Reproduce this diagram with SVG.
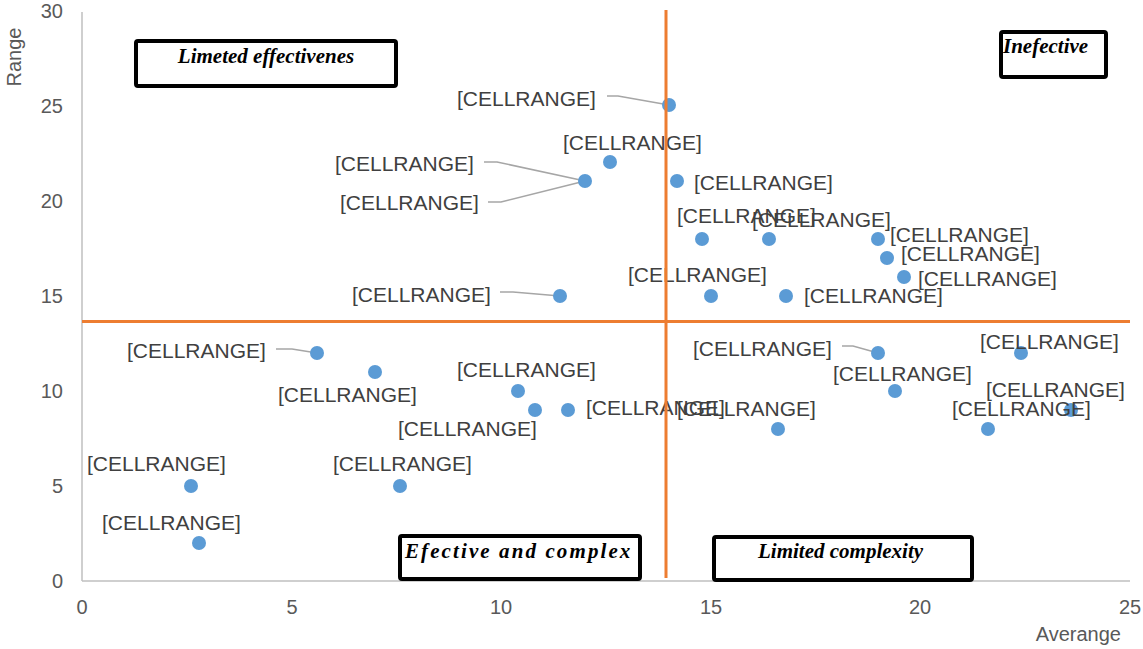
<svg xmlns="http://www.w3.org/2000/svg" width="1143" height="649" viewBox="0 0 1143 649">
<style>
.tick{font-family:"Liberation Sans",Arial,sans-serif;font-size:20px;fill:#595959}
.ttl{font-family:"Liberation Sans",Arial,sans-serif;font-size:20px;fill:#595959}
.lbl{font-family:"Liberation Sans",Arial,sans-serif;font-size:21px;fill:#404040}
.pt{fill:#5B9BD5}
.ax{stroke:#BFBFBF;stroke-width:1.5;fill:none}
.q{stroke:#ED7D31;stroke-width:3;fill:none}
.lead{stroke:#A6A6A6;stroke-width:1.5;fill:none}
.box{fill:#FFFFFF;stroke:#000000;stroke-width:4}
.bt{font-family:"Liberation Serif","Times New Roman",serif;font-size:21px;font-weight:bold;font-style:italic;fill:#000000}
</style>
<rect width="1143" height="649" fill="#FFFFFF"/>
<g id="axes">
<line class="ax" x1="82" y1="12" x2="82" y2="581"/>
<line class="ax" x1="82" y1="581" x2="1130" y2="581"/>
<g class="tick" text-anchor="end">
<text x="63" y="588">0</text>
<text x="63" y="493">5</text>
<text x="63" y="398">10</text>
<text x="63" y="303">15</text>
<text x="63" y="208">20</text>
<text x="63" y="113">25</text>
<text x="63" y="18">30</text>
</g>
<g class="tick" text-anchor="middle">
<text x="82" y="614">0</text>
<text x="292" y="614">5</text>
<text x="501" y="614">10</text>
<text x="711" y="614">15</text>
<text x="920" y="614">20</text>
<text x="1130" y="614">25</text>
</g>
<text class="ttl" x="1121" y="641" text-anchor="end">Averange</text>
<text class="ttl" transform="translate(21,57) rotate(-90)" text-anchor="middle">Range</text>
</g>
<g id="connectors">
<polyline class="lead" points="607,96 618,96 669,105"/>
<polyline class="lead" points="484,162 497,162 585,181"/>
<polyline class="lead" points="488,202 501,202 585,181"/>
<polyline class="lead" points="500,292 513,292 560,296"/>
<polyline class="lead" points="276,349 292,349 317,353"/>
<polyline class="lead" points="842,346 853,346 878,353"/>
</g>
<g id="points">
<g id="p1"><circle class="pt" cx="669" cy="105" r="7"/><text class="lbl" x="457" y="106">[CELLRANGE]</text></g>
<g id="p2"><circle class="pt" cx="610" cy="162" r="7"/><text class="lbl" x="563" y="150">[CELLRANGE]</text></g>
<g id="p3"><circle class="pt" cx="585" cy="181" r="7"/><text class="lbl" x="335" y="171">[CELLRANGE]</text><text class="lbl" x="340" y="210">[CELLRANGE]</text></g>
<g id="p4"><circle class="pt" cx="677" cy="181" r="7"/><text class="lbl" x="694" y="190">[CELLRANGE]</text></g>
<g id="p5"><circle class="pt" cx="702" cy="239" r="7"/><text class="lbl" x="677" y="223">[CELLRANGE]</text></g>
<g id="p6"><circle class="pt" cx="769" cy="239" r="7"/><text class="lbl" x="752" y="227">[CELLRANGE]</text></g>
<g id="p7"><circle class="pt" cx="878" cy="239" r="7"/><text class="lbl" x="890" y="242">[CELLRANGE]</text></g>
<g id="p8"><circle class="pt" cx="887" cy="258" r="7"/><text class="lbl" x="901" y="261">[CELLRANGE]</text></g>
<g id="p9"><circle class="pt" cx="904" cy="277" r="7"/><text class="lbl" x="918" y="286">[CELLRANGE]</text></g>
<g id="p10"><circle class="pt" cx="711" cy="296" r="7"/><text class="lbl" x="628" y="282">[CELLRANGE]</text></g>
<g id="p11"><circle class="pt" cx="786" cy="296" r="7"/><text class="lbl" x="804" y="303">[CELLRANGE]</text></g>
<g id="p12"><circle class="pt" cx="560" cy="296" r="7"/><text class="lbl" x="352" y="302">[CELLRANGE]</text></g>
<g id="p13"><circle class="pt" cx="317" cy="353" r="7"/><text class="lbl" x="127" y="358">[CELLRANGE]</text></g>
<g id="p14"><circle class="pt" cx="375" cy="372" r="7"/><text class="lbl" x="278" y="402">[CELLRANGE]</text></g>
<g id="p15"><circle class="pt" cx="518" cy="391" r="7"/><text class="lbl" x="457" y="377">[CELLRANGE]</text></g>
<g id="p16"><circle class="pt" cx="535" cy="410" r="7"/><text class="lbl" x="398" y="436">[CELLRANGE]</text></g>
<g id="p17"><circle class="pt" cx="568" cy="410" r="7"/><text class="lbl" x="586" y="415">[CELLRANGE]</text></g>
<g id="p18"><circle class="pt" cx="191" cy="486" r="7"/><text class="lbl" x="87" y="471">[CELLRANGE]</text></g>
<g id="p19"><circle class="pt" cx="400" cy="486" r="7"/><text class="lbl" x="333" y="471">[CELLRANGE]</text></g>
<g id="p20"><circle class="pt" cx="199" cy="543" r="7"/><text class="lbl" x="102" y="530">[CELLRANGE]</text></g>
<g id="p21"><circle class="pt" cx="878" cy="353" r="7"/><text class="lbl" x="693" y="356">[CELLRANGE]</text></g>
<g id="p22"><circle class="pt" cx="895" cy="391" r="7"/><text class="lbl" x="833" y="381">[CELLRANGE]</text></g>
<g id="p23"><circle class="pt" cx="778" cy="429" r="7"/><text class="lbl" x="677" y="416">[CELLRANGE]</text></g>
<g id="p24"><circle class="pt" cx="1021" cy="353" r="7"/><text class="lbl" x="980" y="349">[CELLRANGE]</text></g>
<g id="p25"><circle class="pt" cx="1071" cy="410" r="7"/><text class="lbl" x="986" y="397">[CELLRANGE]</text></g>
<g id="p26"><circle class="pt" cx="988" cy="429" r="7"/><text class="lbl" x="952" y="416">[CELLRANGE]</text></g>
</g>
<g id="quadrant-lines">
<line class="q" x1="666" y1="10" x2="666" y2="578"/>
<line class="q" x1="82" y1="321.5" x2="1130" y2="321.5"/>
</g>
<g id="box-limited-effectiveness"><rect class="box" x="136" y="41" width="260" height="45" rx="2"/><text class="bt" x="266" y="63" text-anchor="middle">Limeted effectivenes</text></g>
<g id="box-inefective"><rect class="box" x="1001" y="32" width="105" height="45" rx="2"/><text class="bt" x="1003" y="53">Inefective</text></g>
<g id="box-efective-complex"><rect class="box" x="400" y="536" width="240" height="43" rx="2"/><text class="bt" x="405" y="558" letter-spacing="2.1">Efective and complex</text></g>
<g id="box-limited-complexity"><rect class="box" x="714" y="537" width="258" height="43" rx="2"/><text class="bt" x="758" y="558">Limited complexity</text></g>
</svg>
